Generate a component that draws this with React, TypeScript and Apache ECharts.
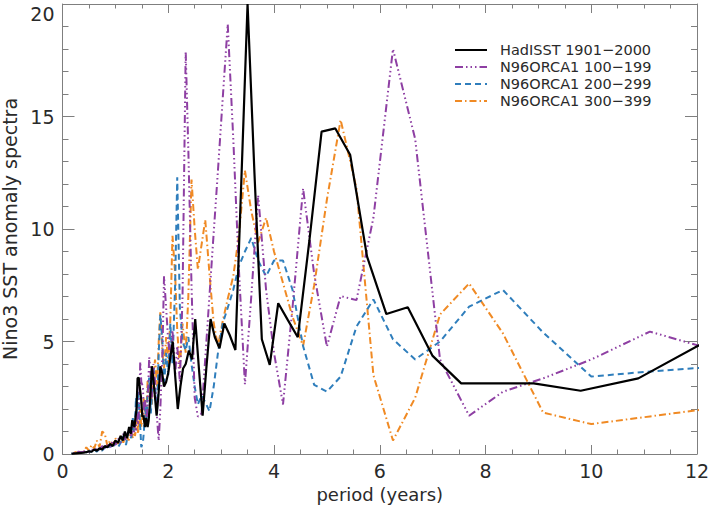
import React, { useEffect, useRef } from "react";
import * as echarts from "echarts";

// HadISST periods (years) and spectral values
const hadPeriods = [12.25, 10.89, 9.8, 8.91, 8.17, 7.54, 7.0, 6.53, 6.125, 5.76, 5.44, 5.16, 4.9, 4.67, 4.45, 4.26, 4.08, 3.92, 3.77, 3.63, 3.5, 3.38, 3.27, 3.16, 3.06, 2.97, 2.88, 2.8, 2.72, 2.65, 2.58, 2.51, 2.45, 2.39, 2.33, 2.28, 2.23, 2.18, 2.13, 2.085, 2.04, 2.0, 1.96, 1.92, 1.885, 1.85, 1.815, 1.78, 1.75, 1.72, 1.69, 1.66, 1.63, 1.61, 1.58, 1.56, 1.53, 1.51, 1.485, 1.46, 1.44, 1.42, 1.4, 1.36, 1.32, 1.29, 1.26, 1.22, 1.18, 1.14, 1.1, 1.05, 1.0, 0.95, 0.9, 0.85, 0.8, 0.75, 0.7, 0.65, 0.6, 0.55, 0.5, 0.45, 0.4, 0.35, 0.3, 0.25, 0.2, 0.17];
const hadisst = [5.1, 3.36, 2.81, 3.14, 3.14, 3.14, 4.36, 6.52, 6.22, 8.77, 13.3, 14.47, 14.33, 9.5, 5.19, 5.96, 6.7, 3.96, 5.1, 12.5, 20.0, 12.0, 4.62, 5.3, 5.8, 4.7, 5.2, 6.0, 3.8, 1.7, 3.8, 6.0, 4.2, 4.6, 4.0, 3.8, 3.0, 2.0, 3.5, 5.0, 4.3, 3.6, 3.2, 3.0, 3.6, 3.9, 2.6, 1.7, 2.5, 3.3, 3.9, 2.5, 1.5, 1.2, 1.6, 1.2, 1.7, 1.66, 2.5, 3.0, 3.4, 3.36, 2.0, 1.2, 1.5, 0.9, 1.2, 0.7, 1.0, 0.6, 0.8, 0.5, 0.6, 0.35, 0.45, 0.3, 0.35, 0.2, 0.25, 0.15, 0.2, 0.1, 0.12, 0.08, 0.06, 0.05, 0.04, 0.03, 0.02, 0.01];

// Model periods (years)
const modelPeriods = [12.5, 11.11, 10, 9.09, 8.33, 7.69, 7.14, 6.67, 6.25, 5.88, 5.56, 5.26, 5.0, 4.76, 4.55, 4.35, 4.17, 4.0, 3.85, 3.7, 3.57, 3.45, 3.33, 3.23, 3.125, 3.03, 2.94, 2.86, 2.78, 2.7, 2.63, 2.56, 2.5, 2.44, 2.38, 2.33, 2.27, 2.22, 2.17, 2.13, 2.08, 2.04, 2.0, 1.96, 1.92, 1.89, 1.85, 1.82, 1.79, 1.75, 1.72, 1.69, 1.67, 1.64, 1.61, 1.59, 1.56, 1.54, 1.52, 1.49, 1.47, 1.45, 1.43, 1.41, 1.39, 1.37, 1.35, 1.33, 1.3, 1.25, 1.2, 1.15, 1.1, 1.05, 1.0, 0.95, 0.9, 0.85, 0.8, 0.75, 0.7, 0.65, 0.6, 0.55, 0.5, 0.45, 0.4, 0.35, 0.3, 0.25, 0.2, 0.17];
const orca100 = [4.5, 5.44, 4.2, 3.36, 2.77, 1.7, 4.2, 14.0, 18.0, 10.5, 6.84, 7.02, 4.77, 8.0, 11.8, 6.5, 2.2, 4.5, 7.3, 11.5, 7.0, 3.1, 8.5, 14.0, 19.1, 15.8, 12.6, 9.85, 7.05, 4.25, 1.8, 1.66, 2.5, 7.5, 13.5, 17.9, 7.0, 3.2, 4.8, 3.5, 5.5, 4.2, 5.0, 6.5, 7.9, 4.5, 2.0, 0.6, 1.5, 3.2, 4.0, 2.5, 3.5, 4.3, 2.2, 1.5, 2.4, 1.8, 3.0, 3.2, 4.1, 2.0, 1.3, 1.8, 1.0, 1.4, 0.9, 1.2, 0.8, 1.1, 0.6, 0.9, 0.5, 0.7, 0.4, 0.6, 0.3, 0.4, 0.25, 0.35, 0.2, 0.25, 0.15, 0.2, 0.1, 0.15, 0.1, 0.08, 0.1, 0.05, 0.05, 0.02];
const orca200 = [3.9, 3.67, 3.44, 5.4, 7.29, 6.55, 5.0, 4.2, 5.1, 6.87, 5.66, 3.44, 2.77, 3.07, 4.8, 7.3, 8.6, 8.6, 7.9, 8.6, 9.6, 9.0, 8.3, 7.3, 6.5, 5.8, 4.5, 3.0, 1.9, 2.3, 2.6, 2.2, 3.0, 4.0, 5.2, 4.6, 5.0, 6.5, 12.3, 7.5, 4.0, 5.8, 3.5, 4.5, 3.0, 5.0, 6.2, 4.5, 2.0, 3.0, 3.9, 2.5, 1.8, 3.4, 2.8, 1.5, 2.2, 1.0, 0.5, 0.3, 1.2, 2.0, 2.8, 1.6, 2.5, 1.3, 1.0, 1.6, 0.7, 1.0, 0.4, 0.8, 0.5, 0.3, 0.5, 0.25, 0.4, 0.2, 0.3, 0.15, 0.25, 0.1, 0.2, 0.1, 0.12, 0.08, 0.1, 0.05, 0.06, 0.04, 0.03, 0.02];
const orca300 = [2.1, 1.67, 1.33, 1.84, 5.36, 7.58, 6.2, 2.5, 0.6, 3.5, 11.8, 14.85, 11.3, 7.5, 4.8, 6.1, 7.6, 9.0, 10.5, 9.4, 10.8, 12.6, 9.6, 7.9, 6.9, 5.9, 4.8, 5.8, 8.0, 10.4, 9.3, 8.2, 10.0, 12.2, 7.0, 4.5, 5.8, 3.8, 5.5, 8.0, 9.7, 6.0, 4.0, 5.2, 3.8, 4.5, 6.3, 5.0, 3.0, 4.2, 3.4, 2.2, 3.0, 2.4, 3.3, 2.0, 1.6, 2.5, 1.8, 1.2, 2.0, 1.4, 0.9, 1.6, 1.1, 0.8, 1.3, 0.7, 1.0, 0.6, 0.9, 0.5, 0.8, 0.45, 0.7, 0.4, 0.6, 0.35, 0.9, 1.0, 0.3, 0.6, 0.25, 0.4, 0.15, 0.3, 0.1, 0.15, 0.05, 0.08, 0.03, 0.02];

const seriesNames = ["HadISST 1901\u22122000", "N96ORCA1 100\u2212199", "N96ORCA1 200\u2212299", "N96ORCA1 300\u2212399"];
const seriesColors = ["#000000", "#8e3fa3", "#2f7ebc", "#f08a24"];
const seriesDashes: (number[] | "solid")[] = ["solid", [8, 3, 1.5, 3, 1.5, 3, 1.5, 3], [6, 4], [7, 3, 1.5, 3]];

const FONT = "DejaVu Sans";

function pairs(xs: number[], ys: number[]) {
  return xs.map((x, i) => [x, ys[i]]);
}

export default function App() {
  const ref = useRef<HTMLDivElement>(null);
  useEffect(() => {
    document.body.style.margin = "0";
    const chart = echarts.init(ref.current!, undefined, { renderer: "svg" });
    const axisColor = "#7f7f7f";
    const textColor = "#2a2a2a";
    const xBase = {
      type: "value" as const,
      min: 0,
      max: 12,
      interval: 2,
      axisLine: { show: true, onZero: false, lineStyle: { color: axisColor, width: 1 } },
      axisTick: { show: true, inside: true, length: 9, lineStyle: { color: axisColor } },
      minorTick: { show: true, splitNumber: 4, length: 4.5, lineStyle: { color: axisColor } },
      splitLine: { show: false },
      minorSplitLine: { show: false },
    };
    const yBase = {
      type: "value" as const,
      min: 0,
      max: 20,
      interval: 5,
      axisLine: { show: true, onZero: false, lineStyle: { color: axisColor, width: 1 } },
      axisTick: { show: true, inside: true, length: 12, lineStyle: { color: axisColor } },
      minorTick: { show: true, splitNumber: 5, length: 6, lineStyle: { color: axisColor } },
      splitLine: { show: false },
      minorSplitLine: { show: false },
    };
    const data = [
      pairs(hadPeriods, hadisst),
      pairs(modelPeriods, orca100),
      pairs(modelPeriods, orca200),
      pairs(modelPeriods, orca300),
    ];
    const legendX1 = 455, legendX2 = 487, legendTextX = 500, legendY0 = 50, legendDy = 17;
    const graphic: any[] = [];
    seriesNames.forEach((name, i) => {
      const y = legendY0 + i * legendDy;
      graphic.push({
        type: "line",
        shape: { x1: legendX1, y1: y, x2: legendX2, y2: y },
        style: { stroke: seriesColors[i], lineWidth: 2, lineDash: seriesDashes[i] === "solid" ? null : seriesDashes[i] },
        silent: true,
      });
      graphic.push({
        type: "text",
        x: legendTextX,
        y: y,
        style: { text: name, fill: textColor, font: `14.5px "${FONT}"`, verticalAlign: "middle", textAlign: "left" },
        silent: true,
      });
    });
    chart.setOption({
      animation: false,
      backgroundColor: "#ffffff",
      textStyle: { fontFamily: FONT },
      grid: { left: 62.5, right: 12, top: 4, bottom: 57, containLabel: false, outerBoundsMode: "none" },
      xAxis: [
        {
          ...xBase,
          position: "bottom",
          name: "period (years)",
          nameLocation: "middle",
          nameGap: 31,
          nameTextStyle: { fontSize: 18, color: textColor, fontFamily: FONT },
          axisLabel: { show: true, fontSize: 19, color: textColor, margin: 7, fontFamily: FONT },
        },
        { ...xBase, position: "top", axisLabel: { show: false } },
      ],
      yAxis: [
        {
          ...yBase,
          position: "left",
          name: "Nino3 SST anomaly spectra",
          nameLocation: "middle",
          nameRotate: 90,
          nameGap: 33,
          nameTextStyle: { fontSize: 19, color: textColor, fontFamily: FONT },
          axisLabel: { show: true, fontSize: 19, color: textColor, margin: 8, fontFamily: FONT, verticalAlignMaxLabel: "top" },
        },
        { ...yBase, position: "right", axisLabel: { show: false } },
      ],
      series: seriesNames.map((name, i) => ({
        name,
        type: "line",
        data: data[i],
        xAxisIndex: 0,
        yAxisIndex: 0,
        symbol: "none",
        clip: true,
        z: 10 - i,
        lineStyle: { color: seriesColors[i], width: i === 0 ? 2.2 : 2, type: seriesDashes[i] },
      })),
      graphic,
    });
    return () => chart.dispose();
  }, []);
  return <div ref={ref} style={{ width: 709, height: 511, position: "absolute", left: 0, top: 0 }} />;
}
